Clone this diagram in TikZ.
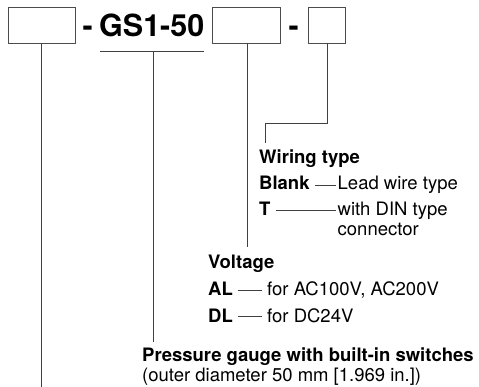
\documentclass[tikz,border=0pt]{standalone}
\usepackage{fontspec}
\setmainfont{TeX Gyre Heros}
\begin{document}
\begin{tikzpicture}[x=1pt,y=1pt,
  box/.style={draw=black!70,line width=0.9pt},
  lead/.style={draw=black!75,line width=0.8pt},
  lbl/.style={anchor=base west,inner sep=0pt,font=\fontsize{18.5}{21}\selectfont},
  blbl/.style={lbl,font=\fontsize{18.5}{21}\selectfont\bfseries},
  big/.style={anchor=base west,inner sep=0pt,font=\fontsize{30.5}{34}\selectfont\bfseries}]
\useasboundingbox (0,0) rectangle (479,-387);
% code boxes
\draw[box] (8,-7) rectangle (75,-43);
\coordinate (b1) at (41.5,-43);
\draw[box] (212,-7) rectangle (280,-43);
\coordinate (b2) at (247,-43);
\draw[box] (308,-7) rectangle (345,-43);
\coordinate (b3) at (327,-43);
\node[big] (d1) at (82.5,-37) {-};
\node[big] (gs) at (99,-37) {GS1-50};
\node[big] (d2) at (288.5,-37) {-};
\draw[lead,line width=1pt] (100,-52) -- (204,-52);
\coordinate (gsu) at (153,-52);
% labels
\node[blbl] (wt) at (259,-164) {Wiring type};
\node[blbl] (blank) at (259,-190) {Blank};
\node[lbl] (lwt) at (337.5,-190) {Lead wire type};
\node[blbl] (t) at (259,-216) {T};
\node[lbl] (din) at (337.5,-216) {with DIN type};
\node[lbl] (con) at (337.5,-236) {connector};
\node[blbl] (volt) at (208,-269) {Voltage};
\node[blbl] (al) at (208,-295.5) {AL};
\node[lbl] (alt) at (267,-295.5) {for AC100V, AC200V};
\node[blbl] (dl) at (208,-322) {DL};
\node[lbl] (dlt) at (267,-322) {for DC24V};
\node[blbl] (pg) at (142,-361) {Pressure gauge with built-in switches};
\node[lbl] (od) at (142,-381) {(outer diameter 50 mm [1.969 in.])};
% leaders
\coordinate (e1) at (41.5,-387);
\coordinate (e2) at (153,-342);
\coordinate (e3) at (247,-247);
\coordinate (e4) at (265,-143);
\draw[lead] (b1) -- (e1);
\draw[lead] (gsu) -- (e2);
\draw[lead] (b2) -- (e3);
\draw[lead] (b3) -- (327,-123) -| (e4);
\draw[lead] ([xshift=5pt]blank.east |- 0,-185) -- ([xshift=-2pt]lwt.west |- 0,-185);
\draw[lead] ([xshift=5.5pt]t.east |- 0,-210.7) -- ([xshift=-2pt]din.west |- 0,-210.7);
\draw[lead] ([xshift=4.5pt]al.east |- 0,-290.3) -- ([xshift=-5pt]alt.west |- 0,-290.3);
\draw[lead] ([xshift=4.5pt]dl.east |- 0,-316.8) -- ([xshift=-5pt]dlt.west |- 0,-316.8);
\end{tikzpicture}
\end{document}
